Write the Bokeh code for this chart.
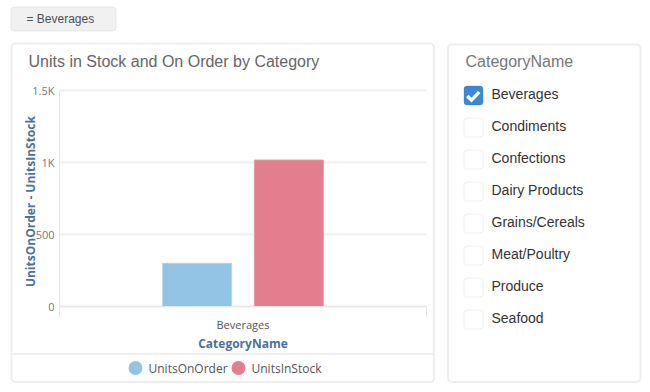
from bokeh.plotting import figure
from bokeh.models import (ColumnDataSource, FixedTicker, Label, BoxAnnotation,
                          PolyAnnotation, Range1d, LinearAxis)
from bokeh.transform import dodge
from bokeh.embed import file_html
from bokeh.resources import INLINE

# ---------------- data ----------------
filter_categories = ["Beverages", "Condiments", "Confections", "Dairy Products",
                     "Grains/Cereals", "Meat/Poultry", "Produce", "Seafood"]
selected = ["Beverages"]
series_names = ["UnitsOnOrder", "UnitsInStock"]
units_on_order = [300]
units_in_stock = [1017]
series_colors = ["#93c4e6", "#e37e8e"]
y_ticks = [0, 500, 1000, 1500]
y_tick_labels = ["0", "500", "1K", "1.5K"]

# ---------------- layout constants (pixels on the page) ----------------
W, H = 648, 390
PLOT_L, PLOT_R, PLOT_T, PLOT_B = 59, 426, 90, 306
Y_MAX = 1500
n_cat = len(selected)
px_per_cat = (PLOT_R - PLOT_L) / n_cat
px_per_val = (PLOT_B - PLOT_T) / Y_MAX

# ranges chosen so the full canvas is the frame and the chart sits in its panel
x_start = -0.5 - PLOT_L / px_per_cat
x_end = -0.5 + (W - PLOT_L) / px_per_cat
y_start = -(H - PLOT_B) / px_per_val
y_end = Y_MAX + PLOT_T / px_per_val

xs = list(range(n_cat))
src = ColumnDataSource(dict(x=xs, cat=selected, on_order=units_on_order, in_stock=units_in_stock))

p = figure(width=W, height=H, x_range=Range1d(x_start, x_end), y_range=Range1d(y_start, y_end),
           output_backend="svg", toolbar_location=None,
           x_axis_location=None, y_axis_location=None,
           min_border=0, min_border_left=0, min_border_right=0,
           min_border_top=0, min_border_bottom=0)
p.outline_line_color = None
p.background_fill_color = "white"
p.border_fill_color = "white"
for g in p.grid:
    g.visible = False

# grid lines limited to the category band
p.segment(x0=[-0.5] * len(y_ticks), x1=[n_cat - 0.5] * len(y_ticks), y0=y_ticks, y1=y_ticks,
          line_color="#f0f0f0", line_width=2)

p.vbar(x=dodge("x", -0.125), top="on_order", width=0.188, source=src,
       fill_color=series_colors[0], line_color="#b3d6ef", line_width=1)
p.vbar(x=dodge("x", 0.125), top="in_stock", width=0.188, source=src,
       fill_color=series_colors[1], line_color="#ea9aa6", line_width=1)

# y axis
ya = LinearAxis(fixed_location=-0.5, bounds=(0, Y_MAX))
ya.ticker = FixedTicker(ticks=y_ticks)
ya.major_label_overrides = {t: l for t, l in zip(y_ticks, y_tick_labels)}
ya.axis_label = "UnitsOnOrder  -  UnitsInStock"
ya.axis_label_text_font = "Open Sans"
ya.axis_label_text_font_style = "bold"
ya.axis_label_text_font_size = "12px"
ya.axis_label_text_color = "#4d6f9c"
ya.axis_label_standoff = -10
ya.major_label_text_font = "Open Sans"
ya.major_label_text_font_size = "11px"
ya.major_label_text_color = "#777777"
ya.major_label_standoff = 5
ya.major_tick_line_color = None
ya.major_tick_out = 0
ya.major_tick_in = 0
ya.minor_tick_line_color = None
ya.minor_tick_out = 0
ya.axis_line_color = "#e6e6e6"
p.add_layout(ya, "left")

# x axis
xa = LinearAxis(fixed_location=0, bounds=(-0.5, n_cat - 0.5))
xa.ticker = FixedTicker(ticks=xs, minor_ticks=[i - 0.5 for i in range(n_cat + 1)])
xa.major_label_overrides = {i: c for i, c in zip(xs, selected)}
xa.axis_label = "CategoryName"
xa.axis_label_text_font = "Open Sans"
xa.axis_label_text_font_style = "bold"
xa.axis_label_text_font_size = "12px"
xa.axis_label_text_color = "#4d6f9c"
xa.axis_label_standoff = 0
xa.major_label_text_font = "Open Sans"
xa.major_label_text_font_size = "11px"
xa.major_label_text_color = "#555555"
xa.major_label_standoff = 0
xa.major_tick_line_color = None
xa.major_tick_out = 10
xa.major_tick_in = 0
xa.minor_tick_line_color = "#e6e6e6"
xa.minor_tick_out = 10
xa.minor_tick_in = 0
xa.axis_line_color = "#e6e6e6"
p.add_layout(xa, "below")

# ---------------- decorations (screen units = canvas pixels, y up) ----------------
def sx(px):
    return px

def sy(py):
    return H - py

def box(l, t, r, b, fill=None, line="#c8c8c8", lw=2, radius=4, level="underlay"):
    bx = BoxAnnotation(left=sx(l), right=sx(r), top=sy(t), bottom=sy(b),
                       left_units="screen", right_units="screen",
                       top_units="screen", bottom_units="screen",
                       fill_color=fill if fill else "white", fill_alpha=1.0 if fill else 0.0,
                       line_color=line, line_width=lw, border_radius=radius,
                       level=level)
    p.add_layout(bx)
    return bx

def text(x, y, s, size="12px", color="#333333", font="Liberation Sans", align="left"):
    lb = Label(x=sx(x), y=sy(y), x_units="screen", y_units="screen", text=s,
               text_font=font, text_font_size=size, text_color=color,
               text_align=align, text_baseline="middle")
    p.add_layout(lb)
    return lb

# filter button
box(10.5, 6.5, 115.5, 30.5, fill="#f1f1f1", line="#c4c4c4", lw=1, radius=3)
text(26, 18, "= " + selected[0], size="12px", color="#505050")

# chart panel
box(11, 43, 433.5, 381.5)
text(28, 61, "Units in Stock and On Order by Category", size="16px", color="#666666")
box(12, 353, 432.5, 354, fill="#e2e2e2", line=None, lw=0, radius=0)
legend_x = [135, 238]
for i, name in enumerate(series_names):
    box(legend_x[i] - 7, 360.5, legend_x[i] + 7, 374.5, fill=series_colors[i], line=None, lw=0,
        radius=7, level="annotation")
    text(legend_x[i] + 13, 368, name, size="12px", color="#555555", font="Open Sans")

# filter panel
box(447.5, 44, 640, 381.5)
text(465, 61, "CategoryName", size="16px", color="#777777")
check_xs = [465.6, 468.0, 471.0, 477.4, 479.9, 471.0]
check_ys = [96.8, 94.2, 97.2, 90.4, 92.8, 102.0]
for i, c in enumerate(filter_categories):
    top = 85 + 32 * i
    checked = c in selected
    box(463.5, top + 0.5, 482.5, top + 19.5,
        fill="#3d89d1" if checked else "white",
        line="#2f75bd" if checked else "#c9c9c9", lw=1, radius=3, level="annotation")
    if checked:
        p.add_layout(PolyAnnotation(xs=[sx(x) for x in check_xs],
                                    ys=[sy(y + 32 * i) for y in check_ys],
                                    xs_units="screen", ys_units="screen",
                                    fill_color="white", fill_alpha=1.0, line_color=None,
                                    level="annotation"))
    text(491, top + 8.5, c, size="14px", color="#333333")

open("out.html", "w").write(file_html(p, INLINE))
